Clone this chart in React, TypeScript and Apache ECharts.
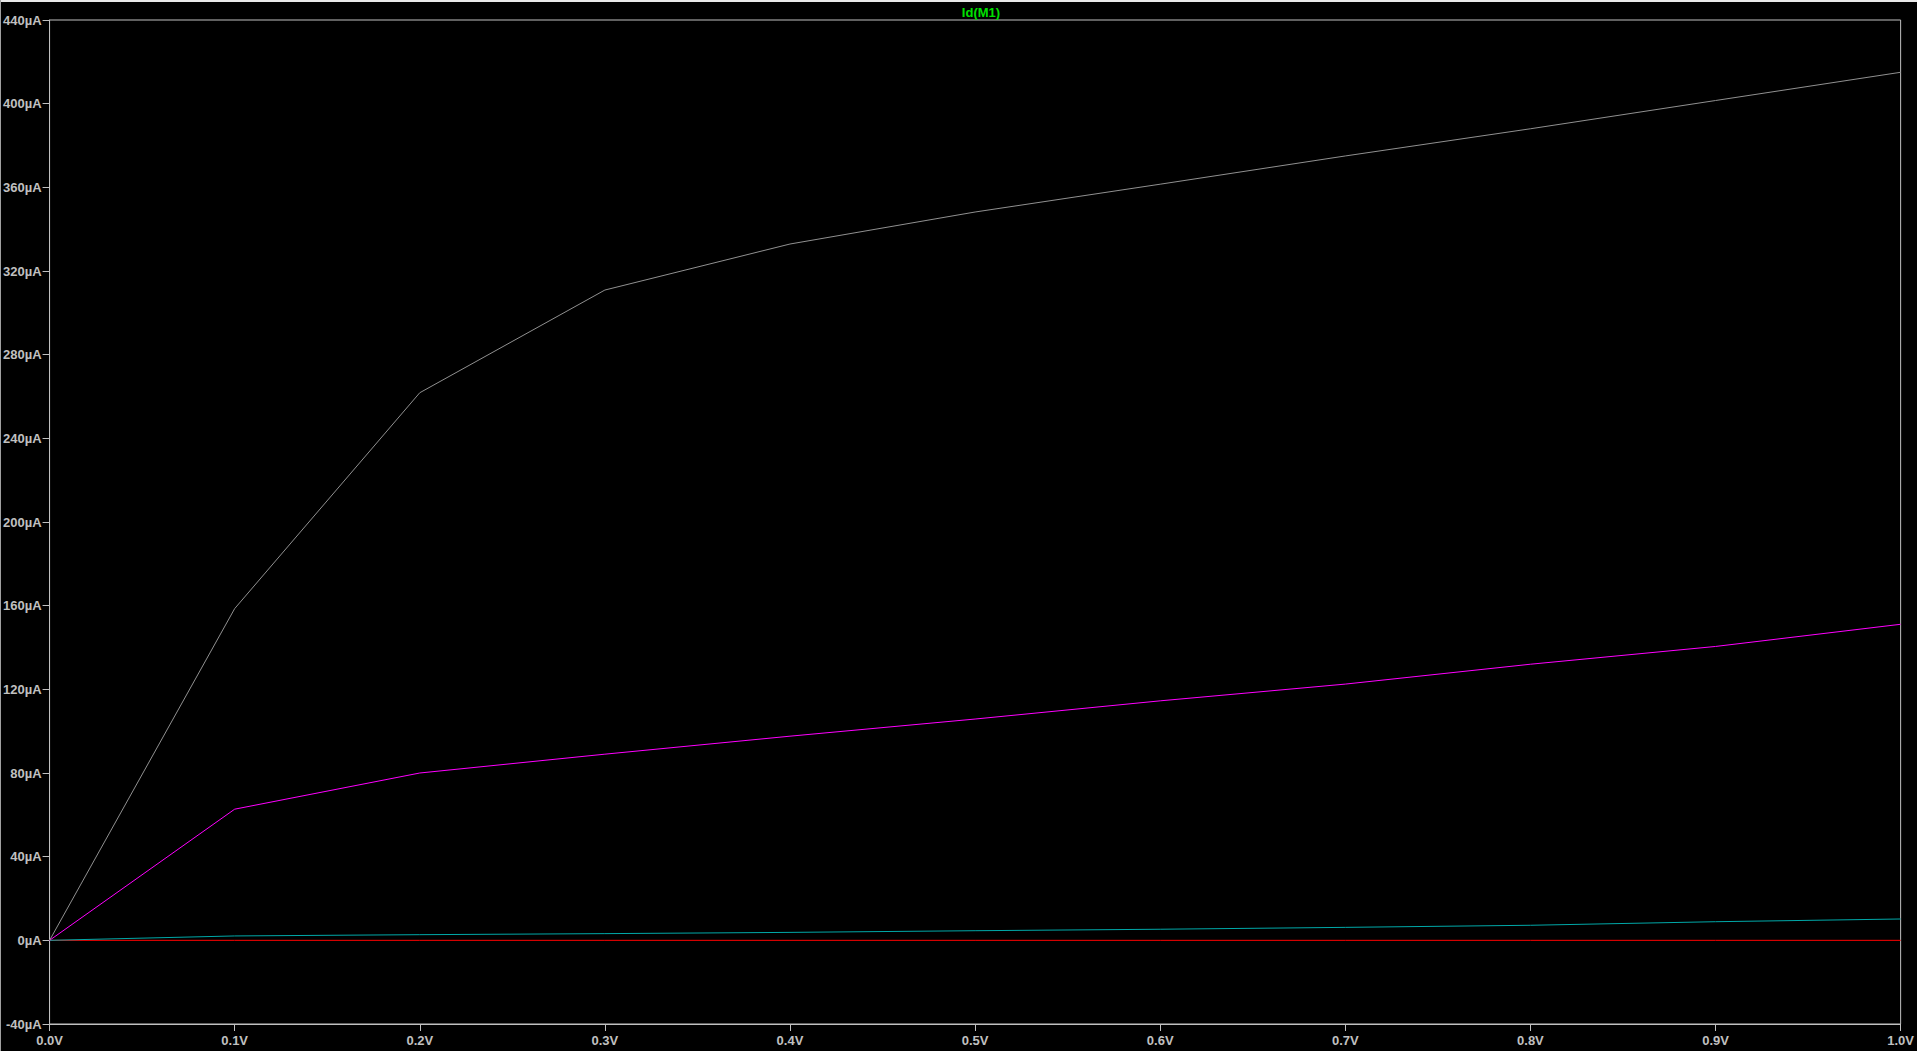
import React, { useEffect, useRef } from "react";
import * as echarts from "echarts";

const vds = [0, 0.1, 0.2, 0.3, 0.4, 0.5, 0.6, 0.7, 0.8, 0.9, 1.0];
const idGray = [0, 158.6, 261.8, 310.9, 332.9, 348.2, 361.5, 375, 388, 401.5, 415];
const idMagenta = [0, 62.7, 80, 89, 97.6, 105.8, 114.5, 122.5, 132, 140.5, 151.1];
const idCyan = [0, 2.1, 2.7, 3.2, 3.8, 4.6, 5.3, 6.2, 7.2, 8.9, 10.2];
const idRed = [0, 0, 0, 0, 0, 0, 0, 0, 0, 0, 0];
const title = "Id(M1)";

const pairs = (ys: number[]) => vds.map((x, i) => [x, ys[i]]);

export default function App() {
  const ref = useRef<HTMLDivElement>(null);
  useEffect(() => {
    document.body.style.margin = "0";
    document.body.style.background = "#000";
    const chart = echarts.init(ref.current!, undefined, { renderer: "svg" });
    const axisColor = "#c0c0c0";
    const font = { fontFamily: "Liberation Sans", fontSize: 13, fontWeight: "bold" as const, color: axisColor };
    const lineSeries = (name: string, data: number[], color: string) => ({
      name,
      type: "line",
      data: pairs(data),
      symbol: "none",
      lineStyle: { color, width: 1 },
      itemStyle: { color },
    });
    chart.setOption({
      animation: false,
      backgroundColor: "#000",
      title: {
        text: title,
        left: 976,
        top: 1,
        textAlign: "center",
        textStyle: { fontFamily: "Liberation Sans", fontSize: 13, fontWeight: "bold", color: "#00e000" },
      },
      grid: {
        left: 49,
        right: 14,
        top: 20,
        bottom: 27,
        show: true,
        borderColor: axisColor,
        borderWidth: 1,
        backgroundColor: "transparent",
      },
      xAxis: {
        type: "value",
        min: 0,
        max: 1,
        interval: 0.1,
        axisLine: { show: true, onZero: false, lineStyle: { color: axisColor } },
        axisTick: { show: true, inside: false, length: 7, lineStyle: { color: axisColor } },
        splitLine: { show: false },
        axisLabel: {
          ...font,
          margin: 10,
          formatter: (v: number) => v.toFixed(1) + "V",
        },
      },
      yAxis: {
        type: "value",
        min: -40,
        max: 440,
        interval: 40,
        axisLine: { show: true, onZero: false, lineStyle: { color: axisColor } },
        axisTick: { show: true, inside: false, length: 7, lineStyle: { color: axisColor } },
        splitLine: { show: false },
        axisLabel: {
          ...font,
          margin: 8,
          formatter: (v: number) => v + "µA",
        },
      },
      graphic: [
        { type: "rect", left: 0, top: 0, shape: { width: 1917, height: 2 }, style: { fill: "#e8e8e8" } },
        { type: "rect", left: 0, top: 0, shape: { width: 1, height: 1051 }, style: { fill: "#a0a0a0" } },
      ],
      series: [
        lineSeries("red", idRed, "#ff0000"),
        lineSeries("cyan", idCyan, "#00a8a8"),
        lineSeries("magenta", idMagenta, "#ff00ff"),
        lineSeries("gray", idGray, "#909090"),
      ],
    });
    return () => chart.dispose();
  }, []);
  return <div ref={ref} style={{ width: 1917, height: 1051 }} />;
}
